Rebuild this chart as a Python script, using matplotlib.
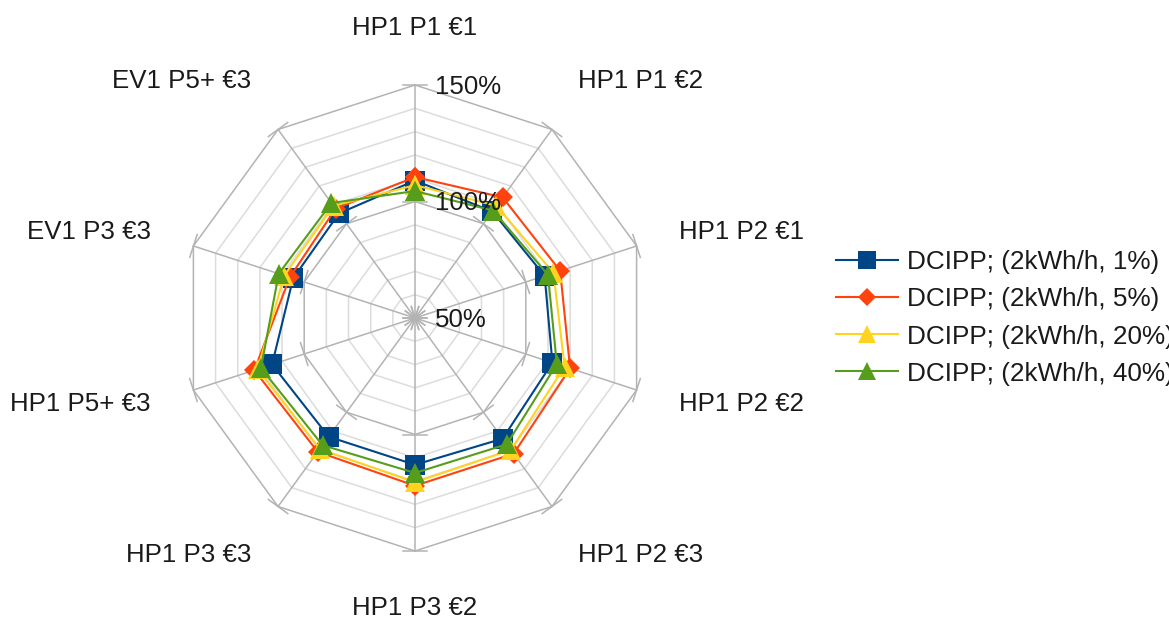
import numpy as np
import matplotlib
matplotlib.use("Agg")
import matplotlib.pyplot as plt

plt.rcParams['font.family'] = ['Liberation Sans', 'DejaVu Sans']

categories = ["HP1 P1 €1", "HP1 P1 €2", "HP1 P2 €1", "HP1 P2 €2", "HP1 P2 €3",
              "HP1 P3 €2", "HP1 P3 €3", "HP1 P5+ €3", "EV1 P3 €3", "EV1 P5+ €3"]
series_names = ["DCIPP; (2kWh/h, 1%)", "DCIPP; (2kWh/h, 5%)",
                "DCIPP; (2kWh/h, 20%)", "DCIPP; (2kWh/h, 40%)"]
s_1pct = [109, 106.5, 108.5, 112, 114, 113, 113, 114.5, 105, 105.5]
s_5pct = [110.5, 114, 115.5, 120, 122, 122, 121, 122.5, 106.5, 108]
s_20pct = [107, 109.5, 112.5, 117.5, 120, 120.5, 119.5, 121, 109, 109.5]
s_40pct = [104.5, 107, 110, 114, 117, 116.5, 117.5, 119.5, 111.5, 111]
tick_values = [50, 100, 150]
tick_labels = ["50%", "100%", "150%"]

colors = ["#004586", "#ff420e", "#ffd320", "#579d1c"]
markers = ["s", "D", "^", "^"]
msizes = [14, 10.5, 14.5, 14.5]

W, H = 1169, 619
fig = plt.figure(figsize=(W / 100, H / 100), dpi=100)
cx, cy, R = 415, 318, 233
ax = fig.add_axes([(cx - R) / W, (H - cy - R) / H, 2 * R / W, 2 * R / H], projection='polar')
ax.set_theta_offset(np.pi / 2)
ax.set_theta_direction(-1)
rmin, rmax = 50, 150
ax.set_ylim(rmin, rmax)
ax.grid(False)
ax.set_xticks([])
ax.set_yticks([])
ax.spines['polar'].set_visible(False)
ax.patch.set_visible(False)

n = len(categories)
theta = np.arange(n) * 2 * np.pi / n
theta_c = np.append(theta, theta[0])

grid_major = "#b3b3b3"
grid_minor = "#dcdcdc"
# rings
for r in range(60, 151, 10):
    col = grid_major if r % 50 == 0 else grid_minor
    ax.plot(theta_c, [r] * (n + 1), color=col, lw=1.1, zorder=1, clip_on=False)
# spokes
for t in theta:
    ax.plot([t, t], [rmin, rmax], color=grid_major, lw=1.1, zorder=1.5, clip_on=False)
# small tick marks on spokes at major values
px_per_unit = R / (rmax - rmin)
tick_half = 12 / px_per_unit
for t in theta:
    for rv in tick_values:
        d = rv - rmin
        rr = rmin + np.hypot(d, tick_half)
        da = np.arctan2(tick_half, d)
        ax.plot([t - da, t + da], [rr, rr], color=grid_major, lw=1.1, zorder=1.5, clip_on=False)

# data
for name, vals, col, mk, ms in zip(series_names, [s_1pct, s_5pct, s_20pct, s_40pct],
                                    colors, markers, msizes):
    v = np.append(vals, vals[0])
    ax.plot(theta_c, v, color=col, lw=1.5, marker=mk, markersize=ms,
            markeredgewidth=0, label=name, zorder=3, clip_on=False)

# radial tick labels
for tv, tl in zip(tick_values, tick_labels):
    ax.annotate(tl, xy=(0, tv), xytext=(20, -2), textcoords='offset pixels',
                ha='left', va='center', fontsize=18.6, color='#1a1a1a', zorder=5)

# category labels
label_r = rmin + 278 / px_per_unit
for t, lab in zip(theta, categories):
    s, c = np.sin(t), np.cos(t)
    ha = 'center' if abs(s) < 0.1 else ('left' if s > 0 else 'right')
    va = 'bottom' if c > 0.5 else ('top' if c < -0.5 else 'center')
    ax.text(t, label_r, lab, ha=ha, va=va, fontsize=18.6, color='#1a1a1a',
            clip_on=False)

leg = fig.legend(loc='center left', bbox_to_anchor=(836 / W, 1 - 318 / H),
                 bbox_transform=fig.transFigure, frameon=False, fontsize=18.8,
                 handlelength=2.38, handletextpad=0.33, labelspacing=0.5,
                 borderpad=0, borderaxespad=0, markerscale=0.9)
for t in leg.get_texts():
    t.set_color('#1a1a1a')

fig.savefig("out.png", dpi=100, facecolor='white')
